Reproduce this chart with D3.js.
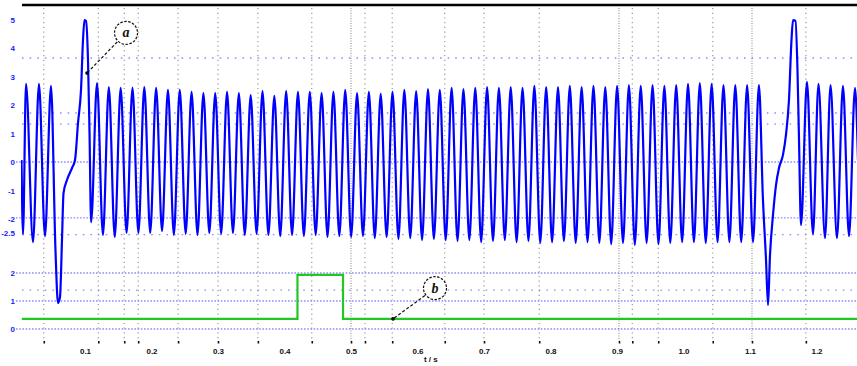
<!DOCTYPE html>
<html>
<head>
<meta charset="utf-8">
<script src="https://cdn.jsdelivr.net/npm/d3@7"></script>
<style>
  body { margin: 0; background: #fff; }
  svg { display: block; }
  .ylab text { fill: #1a1aff; font: bold 8px "Liberation Sans", sans-serif; }
  .xlab text { fill: #111; font: bold 8px "Liberation Sans", sans-serif; }
  .tick line { stroke: #111; }
</style>
</head>
<body>
<div id="chart"></div>
<script>
// --- data ---
// blue trace, start (before first disturbance)
const preTimes = [0.0045, 0.0068, 0.0113, 0.0218, 0.0308, 0.0398, 0.0489, 0.0556, 0.0594, 0.0624, 0.0654,
    0.0677, 0.0729, 0.0805, 0.0850, 0.0895, 0.0940, 0.0970, 0.0992, 0.1015, 0.1045, 0.1068];
const preValues = [0.07, -2.53, 2.74, -2.81, 2.74, -2.60, 2.67, -3.09, -4.95, -4.74, -2.74,
    -1.09, -0.63, -0.21, 0.07, 1.37, 2.53, 4.28, 4.98, 4.95, 3.58, 1.02];

// blue trace, steady part: troughs and peaks taken every half period
const mainStart = 0.1092, mainHalfPeriod = 0.008887;
const mainTroughs = [-2.11, -2.56, -2.63, -2.49, -2.49, -2.49,
    -2.42, -2.56, -2.52, -2.56, -2.49, -2.52,
    -2.49, -2.56, -2.52, -2.56, -2.60, -2.56,
    -2.60, -2.56, -2.63, -2.60, -2.63, -2.60,
    -2.67, -2.63, -2.70, -2.67, -2.74, -2.70,
    -2.74, -2.77, -2.74, -2.81, -2.77, -2.74,
    -2.81, -2.77, -2.84, -2.81, -2.77, -2.84,
    -2.81, -2.84, -2.88, -2.84, -2.91, -2.84,
    -2.88, -2.84, -2.81, -2.81, -2.84, -2.81,
    -2.81, -2.81, -2.81];
const mainPeaks = [2.77, 2.63, 2.60, 2.60, 2.63, 2.60,
    2.53, 2.53, 2.46, 2.42, 2.42, 2.46,
    2.42, 2.35, 2.49, 2.32, 2.49, 2.46,
    2.46, 2.42, 2.46, 2.53, 2.42, 2.46,
    2.39, 2.46, 2.53, 2.49, 2.56, 2.53,
    2.60, 2.56, 2.60, 2.63, 2.60, 2.63,
    2.60, 2.67, 2.63, 2.63, 2.67, 2.63,
    2.67, 2.63, 2.67, 2.70, 2.67, 2.70,
    2.67, 2.70, 2.74, 2.77, 2.74, 2.70,
    2.70, 2.70, 2.70];

// blue trace, second disturbance and the end
const postTimes = [1.1195, 1.1241, 1.1271, 1.1301, 1.1346, 1.1391, 1.1436, 1.1496, 1.1541, 1.1586, 1.1624, 1.1647,
    1.1684, 1.1714, 1.1737, 1.1767, 1.1857, 1.1947, 1.2030, 1.2128, 1.2211, 1.2308, 1.2398, 1.2489, 1.2579, 1.2624];
const postValues = [-1.33, -3.44, -5.02, -3.26, -1.86, -0.81, -0.21, 0.25, 0.95, 2.18, 4.28, 4.98,
    4.95, 3.23, 0.77, -2.21, 2.81, -2.53, 2.74, -2.67, 2.70, -2.67, 2.67, -2.60, 2.60, 0.07];

// green trace (step signal)
const greenTimes = [0.005, 0.4195, 0.488, 1.263];
const greenValues = [0.36, 1.93, 0.36, 0.36];

// axes / grid
const xLabelValues = [0.1, 0.2, 0.3, 0.4, 0.5, 0.6, 0.7, 0.8, 0.9, 1.0, 1.1, 1.2];
const xLabels = ["0.1", "0.2", "0.3", "0.4", "0.5", "0.6", "0.7", "0.8", "0.9", "1.0", "1.1", "1.2"];
const xGrid = [0.038, 0.12, 0.159, 0.18, 0.24, 0.30, 0.36, 0.441, 0.50, 0.521, 0.562, 0.641,
    0.70, 0.783, 0.903, 0.923, 0.962, 1.044, 1.103, 1.184];
const xGridDense = [0.50, 0.903, 1.103];
const topTicks = [5, 4, 3, 2, 1, 0, -1, -2, -2.5];
const topLabels = ["5", "4", "3", "2", "1", "0", "-1", "-2", "-2.5"];
const topGridDense = [0, -1.96];
const topGridSparse = [3.65, 1.72, 1.33, -2.55];
const botTicks = [2, 1, 0];
const botLabels = ["2", "1", "0"];
const botGridDense = [2, 1, 0];
const botGridSparse = [1.39];

const annotations = [
    {label: "a", t: 0.1617, v: 4.53, pt: 0.103, pv: 3.12, axis: "top"},
    {label: "b", t: 0.6263, v: 1.46, pt: 0.5632, pv: 0.36, axis: "bot"}
];

// --- drawing ---
const width = 857, height = 366;
const left = 22, right = 857;

const svg = d3.select("#chart").append("svg")
    .attr("width", width)
    .attr("height", height);

const x = d3.scaleLinear().domain([0, 1.26]).range([18.5, 18.5 + 665 * 1.26]);
const yTop = d3.scaleLinear().domain([-3, 5]).range([247.5, 19.5]);
const yBot = d3.scaleLinear().domain([0, 2]).range([329, 273]);

svg.append("defs").append("clipPath").attr("id", "plot")
    .append("rect").attr("x", left - 1).attr("y", 0).attr("width", right - left + 1).attr("height", 345);

// vertical grid
svg.append("g").selectAll("line")
    .data(xGrid)
    .join("line")
    .attr("x1", d => x(d)).attr("x2", d => x(d))
    .attr("y1", 8).attr("y2", 341)
    .attr("stroke", "#999")
    .attr("stroke-width", 1.2)
    .attr("stroke-dasharray", d => xGridDense.includes(d) ? "1,1.5" : "1.2,3.5");

// horizontal grids
function hGrid(scale, values, dash, x0) {
    svg.append("g").selectAll("line")
        .data(values)
        .join("line")
        .attr("x1", x0).attr("x2", right)
        .attr("y1", d => scale(d)).attr("y2", d => scale(d))
        .attr("stroke", "#7070ff")
        .attr("stroke-width", 1.3)
        .attr("stroke-opacity", 0.8)
        .attr("stroke-dasharray", dash);
}
hGrid(yTop, topGridDense, "1.6,1.6", 16);
hGrid(yTop, topGridSparse, "1.6,6", left);
hGrid(yBot, botGridDense, "1.6,1.6", 16);
hGrid(yBot, botGridSparse, "1.6,6", left);

// top frame line
svg.append("line")
    .attr("x1", left).attr("x2", right)
    .attr("y1", 5).attr("y2", 5)
    .attr("stroke", "#000")
    .attr("stroke-width", 2.5);

// blue trace points
const blue = [];
preTimes.forEach((t, i) => blue.push([t, preValues[i]]));
mainTroughs.forEach((v, i) => {
    blue.push([mainStart + 2 * i * mainHalfPeriod, v]);
    blue.push([mainStart + (2 * i + 1) * mainHalfPeriod, mainPeaks[i]]);
});
postTimes.forEach((t, i) => blue.push([t, postValues[i]]));

const plot = svg.append("g").attr("clip-path", "url(#plot)");

plot.append("path")
    .datum(blue)
    .attr("fill", "none")
    .attr("stroke", "#0000ff")
    .attr("stroke-width", 2.2)
    .attr("d", d3.line()
        .curve(d3.curveMonotoneX)
        .x(d => x(d[0]))
        .y(d => yTop(d[1])));

plot.append("path")
    .datum(greenTimes.map((t, i) => [t, greenValues[i]]))
    .attr("fill", "none")
    .attr("stroke", "#22c822")
    .attr("stroke-width", 2.2)
    .attr("d", d3.line()
        .curve(d3.curveStepAfter)
        .x(d => x(d[0]))
        .y(d => yBot(d[1])));

// x axis: tick dots under grid lines, then labels
svg.append("g")
    .attr("transform", "translate(0,341)")
    .call(d3.axisBottom(x).tickValues(xGrid).tickSize(2.5).tickFormat(""))
    .call(g => g.select(".domain").remove())
    .call(g => g.selectAll(".tick line").attr("stroke-width", 1.6));

svg.append("g")
    .attr("class", "xlab")
    .attr("transform", "translate(0,343)")
    .call(d3.axisBottom(x).tickValues(xLabelValues).tickSize(0).tickPadding(5)
        .tickFormat((d, i) => xLabels[i]))
    .call(g => g.select(".domain").remove());

svg.append("text")
    .attr("x", x(0.62))
    .attr("y", 362)
    .attr("text-anchor", "middle")
    .attr("fill", "#111")
    .style("font", "bold 8px 'Liberation Sans', sans-serif")
    .text("t / s");

// y axes
svg.append("g")
    .attr("class", "ylab")
    .attr("transform", "translate(21,0)")
    .call(d3.axisLeft(yTop).tickValues(topTicks).tickSize(0).tickPadding(6)
        .tickFormat((d, i) => topLabels[i]))
    .call(g => g.select(".domain").remove());

svg.append("g")
    .attr("class", "ylab")
    .attr("transform", "translate(21,0)")
    .call(d3.axisLeft(yBot).tickValues(botTicks).tickSize(0).tickPadding(6)
        .tickFormat((d, i) => botLabels[i]))
    .call(g => g.select(".domain").remove());

// annotations: dashed circle with letter and a dashed leader to a dot
annotations.forEach(a => {
    const ys = a.axis === "top" ? yTop : yBot;
    const cx = x(a.t), cy = ys(a.v), px = x(a.pt), py = ys(a.pv);
    const r = 11.5;
    const ang = Math.atan2(py - cy, px - cx);
    const g = svg.append("g");
    g.append("circle")
        .attr("cx", cx).attr("cy", cy).attr("r", r)
        .attr("fill", "#fff")
        .attr("stroke", "#111")
        .attr("stroke-width", 1.2)
        .attr("stroke-dasharray", "2.5,1.5");
    g.append("text")
        .attr("x", cx).attr("y", cy + 4.5)
        .attr("text-anchor", "middle")
        .attr("fill", "#111")
        .style("font", "italic bold 14px 'Liberation Serif', serif")
        .text(a.label);
    g.append("line")
        .attr("x1", cx + (r + 1) * Math.cos(ang)).attr("y1", cy + (r + 1) * Math.sin(ang))
        .attr("x2", px).attr("y2", py)
        .attr("stroke", "#111")
        .attr("stroke-width", 1.2)
        .attr("stroke-dasharray", "3,2");
    g.append("circle")
        .attr("cx", px).attr("cy", py).attr("r", 1.8)
        .attr("fill", "#000");
});
</script>
</body>
</html>
